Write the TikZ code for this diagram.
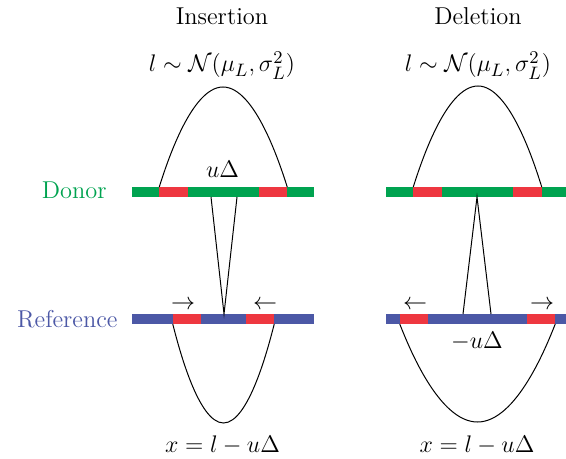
\documentclass[tikz,border=0pt]{standalone}
\usepackage{amsmath}
\definecolor{dgreen}{RGB}{0,163,80}
\definecolor{rblue}{RGB}{76,88,166}
\definecolor{sred}{RGB}{238,55,64}
\begin{document}
\begin{tikzpicture}[x=0.5pt,y=-0.5pt,
  every node/.style={font=\fontsize{12.2}{14}\selectfont},
  bar/.style={inner sep=0pt, outer sep=0pt, minimum height=5pt, draw=none},
  donorbar/.style={bar, fill=dgreen},
  refbar/.style={bar, fill=rblue},
  redseg/.style={bar, fill=sred, minimum width=14.25pt},
  curve/.style={draw=black, line width=0.5pt},
  lbl/.style={inner sep=0pt, anchor=base}]
\useasboundingbox (0,0) rectangle (566,459);
% titles
\node[lbl] (tI) at (222,25) {Insertion};
\node[lbl] (tD) at (478,25) {Deletion};
\node[lbl] (fI) at (222,72) {$l\sim\mathcal{N}(\mu_L,\sigma_L^2)$};
\node[lbl] (fD) at (478,72) {$l\sim\mathcal{N}(\mu_L,\sigma_L^2)$};
\node[lbl, anchor=base east, text=dgreen] (donor) at (107,199) {Donor};
\node[lbl, anchor=base east, text=rblue] (ref) at (118,327) {Reference};
% coordinates for curves
\coordinate (bIt) at (223,87);
\coordinate (bDt) at (478,86);
\coordinate (bIb) at (223.5,423);
\coordinate (bDb) at (477.5,422);
\coordinate (apI) at (224,314);
\coordinate (tIa) at (211,197);
\coordinate (tIb) at (237,197);
\coordinate (apD) at (477,197);
\coordinate (tDa) at (463,314);
\coordinate (tDb) at (491,314);
% bars
\node[donorbar, minimum width=91pt] (dI) at (223,192) {};
\node[redseg] (dIr1) at (173.5,192) {};
\node[redseg] (dIr2) at (273,192) {};
\node[refbar, minimum width=91pt] (rI) at (223,319) {};
\node[redseg] (rIr1) at (187,319) {};
\node[redseg] (rIr2) at (260,319) {};
\node[donorbar, minimum width=90pt] (dD) at (476,192) {};
\node[redseg] (dDr1) at (427.5,192) {};
\node[redseg] (dDr2) at (527.5,192) {};
\node[refbar, minimum width=90pt] (rD) at (476,319) {};
\node[redseg] (rDr1) at (414,319) {};
\node[redseg] (rDr2) at (541,319) {};
% curves
\draw[curve] (dIr1.north west) parabola bend (bIt) (dIr2.north east);
\draw[curve] (dDr1.north west) parabola bend (bDt) (dDr2.north east);
\draw[curve] (rIr1.south west) parabola bend (bIb) (rIr2.south east);
\draw[curve] (rDr1.south west) parabola bend (bDb) (rDr2.south east);
% triangles
\draw[curve] (tIa) -- (apI) -- (tIb);
\draw[curve] (tDa) -- (apD) -- (tDb);
% labels
\node[lbl] (uI) at (222.5,178) {$u\Delta$};
\node[lbl] (uD) at (477,348) {$-u\Delta$};
\node[inner sep=0pt] (a1) at (183,305) {$\rightarrow$};
\node[inner sep=0pt] (a2) at (265,305) {$\leftarrow$};
\node[inner sep=0pt] (a3) at (415,305) {$\leftarrow$};
\node[inner sep=0pt] (a4) at (542,305) {$\rightarrow$};
\node[lbl] (xI) at (222.5,452) {$x=l-u\Delta$};
\node[lbl] (xD) at (477,452) {$x=l-u\Delta$};
\end{tikzpicture}
\end{document}
